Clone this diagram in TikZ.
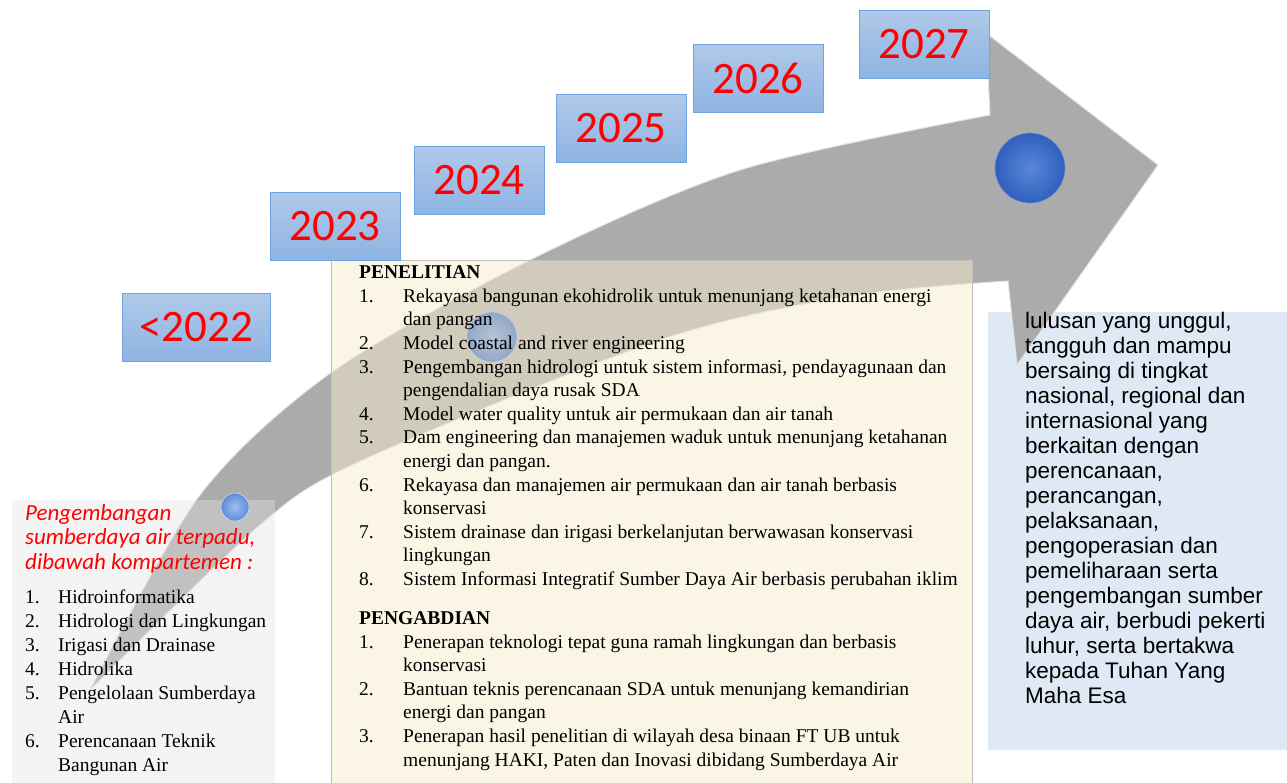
\documentclass[tikz,border=0pt]{standalone}
\usepackage{fontspec}
\setmainfont{Liberation Serif}
\newfontfamily\calibrifont{Carlito}
\newfontfamily\robotofont{Liberation Sans}
\usepackage{tikz}
\usetikzlibrary{
        positioning,
        shadings
    }
\definecolor{arrowgray}{RGB}{171,171,171}
\definecolor{arrowedge}{RGB}{228,228,228}
\definecolor{yeartop}{RGB}{176,201,233}
\definecolor{yearbottom}{RGB}{142,180,227}
\definecolor{yearedge}{RGB}{112,163,221}
\definecolor{risetfill}{RGB}{247,235,204}
\definecolor{panelline}{RGB}{190,190,190}
\definecolor{goalblue}{RGB}{222,233,245}
\definecolor{kompfill}{RGB}{227,227,227}
\definecolor{ballinner}{RGB}{88,135,215}
\definecolor{ballouter}{RGB}{48,96,190}
\definecolor{smallinner}{RGB}{160,190,235}
\definecolor{smallouter}{RGB}{95,140,215}

\begin{document}
\begin{tikzpicture}
[x=1pt, y=-1pt,
yearbox/.style={draw=yearedge, top color=yeartop, bottom color=yearbottom, minimum width=130pt, minimum height=68pt, inner sep=0pt, text=red, font=\calibrifont\fontsize{45}{50}\selectfont},
panel/.style={anchor=north west, inner sep=0pt},
bigsphere/.style={inner color=ballinner, outer color=ballouter, draw=ballouter!70!white, line width=0.6pt},
smallsphere/.style={inner color=smallinner, outer color=smallouter, draw=white!70!smallouter, line width=0.6pt},
serifbig/.style={anchor=north west, inner sep=0pt, font=\fontsize{19.5}{23.6}\selectfont},
serifsmall/.style={anchor=north west, inner sep=0pt, font=\fontsize{19.5}{23.9}\selectfont},
]
    \useasboundingbox (0,0) rectangle (1287,782);

    % visi box behind the arrow head
    \node (goalbox) [panel, fill=goalblue, minimum width=299pt, minimum height=438pt] at (988,312) {};

    % the curved arrow
    \filldraw[fill=arrowgray, draw=arrowedge, line width=1pt]
        plot[smooth] coordinates {(90,690) (200,495) (332,372) (530,260) (740,170) (990,115)}
        -- (986,33) -- (1158,165) -- (1017,365) -- (1008,281)
        -- plot[smooth] coordinates {(1008,281) (850,296) (660,340) (363,460) (260,525) (90,690)} -- cycle;
    \shade[bigsphere] (1030,168) circle [radius=35pt];

    \node (risetbox) [panel, draw=panelline, fill=risetfill, fill opacity=0.5, minimum width=641pt, minimum height=530pt] at (331,260) {};
    \node (kompbox) [panel, fill=kompfill, fill opacity=0.4, minimum width=263pt, minimum height=290pt] at (12,500) {};
    \shade[smallsphere, opacity=0.55] (492,337) circle [radius=25pt];
    \shade[smallsphere] (235,507) circle [radius=14pt];

    \node (y2022) [yearbox, minimum width=148pt] at (196,327) {<2022};
    \node (y2023) [yearbox] at (335,226) {2023};
    \node (y2024) [yearbox] at (479,180) {2024};
    \node (y2025) [yearbox] at (621,128) {2025};
    \node (y2026) [yearbox] at (758,78) {2026};
    \node (y2027) [yearbox] at (924,44) {2027};

    \node (riset) [serifbig] at ([shift={(28,2)}]risetbox.north west) {\begin{tabular}{@{}p{44pt}@{}l@{}}
        \multicolumn{2}{@{}l@{}}{\textbf{PENELITIAN}}\\
        1. & Rekayasa bangunan ekohidrolik untuk menunjang ketahanan energi\\
           & dan pangan\\
        2. & Model coastal and river engineering\\
        3. & Pengembangan hidrologi untuk sistem informasi, pendayagunaan dan\\
           & pengendalian daya rusak SDA\\
        4. & Model water quality untuk air permukaan dan air tanah\\
        5. & Dam engineering dan manajemen waduk untuk menunjang ketahanan\\
           & energi dan pangan.\\
        6. & Rekayasa dan manajemen air permukaan dan air tanah berbasis\\
           & konservasi\\
        7. & Sistem drainase dan irigasi berkelanjutan berwawasan konservasi\\
           & lingkungan\\
        8. & Sistem Informasi Integratif Sumber Daya Air berbasis perubahan iklim\\[15.4pt]
        \multicolumn{2}{@{}l@{}}{\textbf{PENGABDIAN}}\\
        1. & Penerapan teknologi tepat guna ramah lingkungan dan berbasis\\
           & konservasi\\
        2. & Bantuan teknis perencanaan SDA untuk menunjang kemandirian\\
           & energi dan pangan\\
        3. & Penerapan hasil penelitian di wilayah desa binaan FT UB untuk\\
           & menunjang HAKI, Paten dan Inovasi dibidang Sumberdaya Air
    \end{tabular}};

    \node (fokus) [panel, align=left, text=red, font=\calibrifont\itshape\fontsize{23}{24.5}\selectfont] at ([shift={(13,4)}]kompbox.north west) {Pengembangan\\sumberdaya air terpadu,\\dibawah kompartemen :};
    \node (kompartemen) [serifsmall] at ([shift={(13,87)}]kompbox.north west) {\begin{tabular}{@{}p{33pt}@{}l@{}}
        1. & Hidroinformatika\\
        2. & Hidrologi dan Lingkungan\\
        3. & Irigasi dan Drainase\\
        4. & Hidrolika\\
        5. & Pengelolaan Sumberdaya\\
           & Air\\
        6. & Perencanaan Teknik\\
           & Bangunan Air
    \end{tabular}};

    \node (lulusan) [panel, align=left, font=\robotofont\fontsize{22.5}{25}\selectfont] at ([shift={(37,0)}]goalbox.north west) {lulusan yang unggul,\\tangguh dan mampu\\bersaing di tingkat\\nasional, regional dan\\internasional yang\\berkaitan dengan\\perencanaan,\\perancangan,\\pelaksanaan,\\pengoperasian dan\\pemeliharaan serta\\pengembangan sumber\\daya air, berbudi pekerti\\luhur, serta bertakwa\\kepada Tuhan Yang\\Maha Esa};
\end{tikzpicture}
\end{document}
